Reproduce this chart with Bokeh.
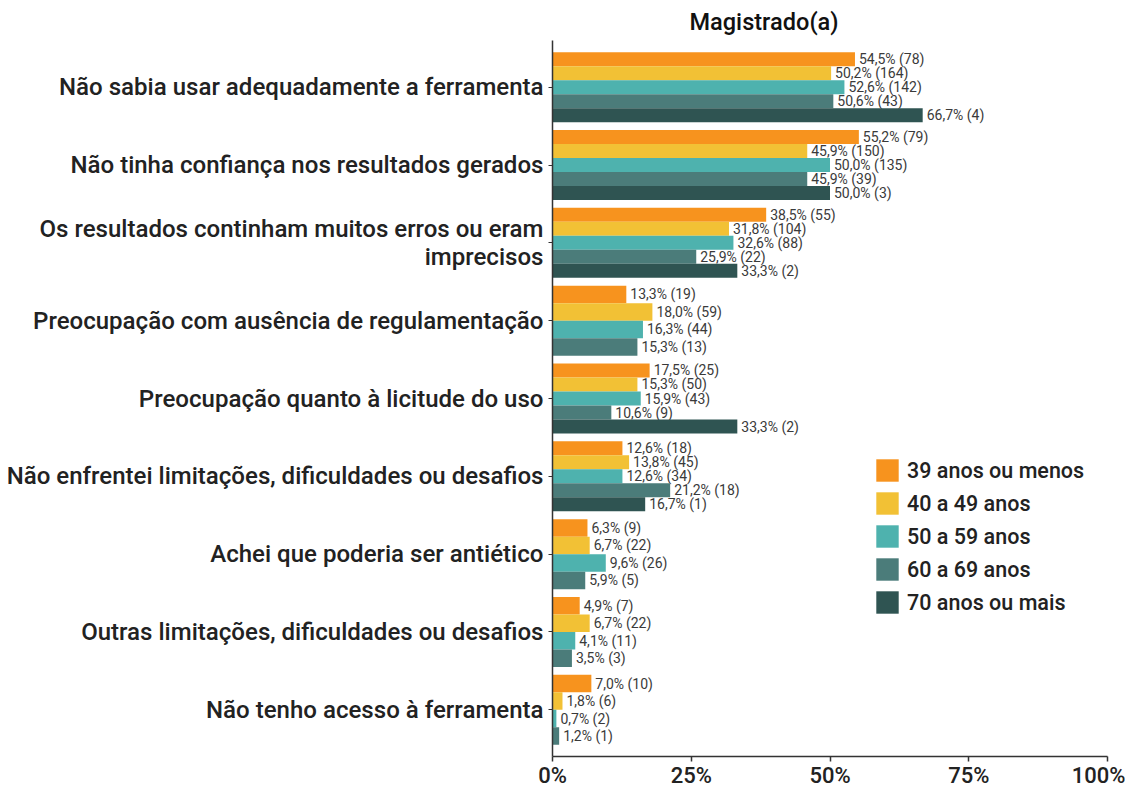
from bokeh.plotting import figure
from bokeh.models import ColumnDataSource, Range1d, FixedTicker, NumeralTickFormatter, Legend, LegendItem, Title
from bokeh.core.properties import value
from bokeh.embed import file_html
from bokeh.resources import INLINE

categories = [
    "Não sabia usar adequadamente a ferramenta",
    "Não tinha confiança nos resultados gerados",
    "Os resultados continham muitos erros ou eram\nimprecisos",
    "Preocupação com ausência de regulamentação",
    "Preocupação quanto à licitude do uso",
    "Não enfrentei limitações, dificuldades ou desafios",
    "Achei que poderia ser antiético",
    "Outras limitações, dificuldades ou desafios",
    "Não tenho acesso à ferramenta",
]
groups = ["39 anos ou menos", "40 a 49 anos", "50 a 59 anos", "60 a 69 anos", "70 anos ou mais"]
colors = ["#F7931E", "#F2C135", "#4EB2AE", "#4B7C7A", "#2F5452"]

pct_39 = [54.5, 55.2, 38.5, 13.3, 17.5, 12.6, 6.3, 4.9, 7.0]
n_39 = [78, 79, 55, 19, 25, 18, 9, 7, 10]
pct_40 = [50.2, 45.9, 31.8, 18.0, 15.3, 13.8, 6.7, 6.7, 1.8]
n_40 = [164, 150, 104, 59, 50, 45, 22, 22, 6]
pct_50 = [52.6, 50.0, 32.6, 16.3, 15.9, 12.6, 9.6, 4.1, 0.7]
n_50 = [142, 135, 88, 44, 43, 34, 26, 11, 2]
pct_60 = [50.6, 45.9, 25.9, 15.3, 10.6, 21.2, 5.9, 3.5, 1.2]
n_60 = [43, 39, 22, 13, 9, 18, 5, 3, 1]
pct_70 = [66.7, 50.0, 33.3, None, 33.3, 16.7, None, None, None]
n_70 = [4, 3, 2, None, 2, 1, None, None, None]

x_ticks = [0, 0.25, 0.5, 0.75, 1.0]

series = [(pct_39, n_39), (pct_40, n_40), (pct_50, n_50), (pct_60, n_60), (pct_70, n_70)]
ncat = len(categories)
centers = [ncat - i for i in range(ncat)]
counts = [sum(1 for s in series if s[0][i] is not None) for i in range(ncat)]
band = 0.9

FONT_MED = "Roboto Medium"

p = figure(frame_width=555, frame_height=716, output_backend="svg", toolbar_location=None,
           x_range=Range1d(0, 1), y_range=Range1d(0.4, ncat + 0.6),
           min_border_left=552, min_border_right=18, min_border_top=39, min_border_bottom=0)
p.outline_line_color = None
p.xgrid.grid_line_color = None
p.ygrid.grid_line_color = None

title = Title(text="Magistrado(a)", align="left", offset=137, text_font=FONT_MED,
              text_font_size="23.5px", text_font_style="normal", text_color="#111111")
p.add_layout(title, "above")

items = []
for k, (pcts, ns) in enumerate(series):
    xs, ys, hs, labels = [], [], [], []
    for i in range(ncat):
        if pcts[i] is None:
            continue
        j = sum(1 for kk in range(k) if series[kk][0][i] is not None)
        h = band / counts[i]
        xs.append(pcts[i] / 100.0)
        ys.append(centers[i] + band / 2 - h * (j + 0.5))
        hs.append(h)
        labels.append(("%.1f%%" % pcts[i]).replace(".", ",") + " (%d)" % ns[i])
    src = ColumnDataSource(dict(x=xs, y=ys, h=hs, label=labels))
    r = p.hbar(y="y", height="h", left=0, right="x", source=src,
               fill_color=colors[k], line_color=None)
    p.text(x="x", y="y", text="label", source=src, x_offset=4,
           text_font=value("Roboto"), text_font_size="14px", text_color="#3a3a3a",
           text_baseline="middle", text_align="left")
    items.append(LegendItem(label=groups[k], renderers=[r]))

legend = Legend(items=items, location=(321, 140), glyph_width=28, glyph_height=28,
                spacing=5, padding=0, margin=0, label_standoff=6,
                label_text_font=FONT_MED, label_text_font_size="21.5px", label_text_color="#222222",
                border_line_color=None, background_fill_alpha=0)
p.add_layout(legend, "center")

p.xaxis.ticker = FixedTicker(ticks=x_ticks)
p.xaxis.formatter = NumeralTickFormatter(format="0%")
p.xaxis.major_label_text_font = FONT_MED
p.xaxis.major_label_text_font_size = "22px"
p.xaxis.major_label_text_color = "#222222"
p.xaxis.minor_tick_line_color = None
p.xaxis.major_tick_out = 5
p.xaxis.major_tick_in = 0
p.xaxis.axis_line_color = "#333333"
p.xaxis.axis_line_width = 1.5
p.xaxis.major_tick_line_color = "#333333"
p.xaxis.major_tick_line_width = 1.5
p.xaxis.major_label_standoff = 1

p.yaxis.ticker = FixedTicker(ticks=centers)
p.yaxis.major_label_overrides = {c: categories[i] for i, c in enumerate(centers)}
p.yaxis.major_label_text_font = FONT_MED
p.yaxis.major_label_text_font_size = "24px"
p.yaxis.major_label_text_line_height = 1.0
p.yaxis.major_label_text_color = "#222222"
p.yaxis.minor_tick_line_color = None
p.yaxis.major_tick_out = 4
p.yaxis.major_tick_in = 0
p.yaxis.axis_line_color = "#333333"
p.yaxis.axis_line_width = 1.5
p.yaxis.major_tick_line_color = "#333333"
p.yaxis.major_label_standoff = 5

open("out.html", "w").write(file_html(p, INLINE))
